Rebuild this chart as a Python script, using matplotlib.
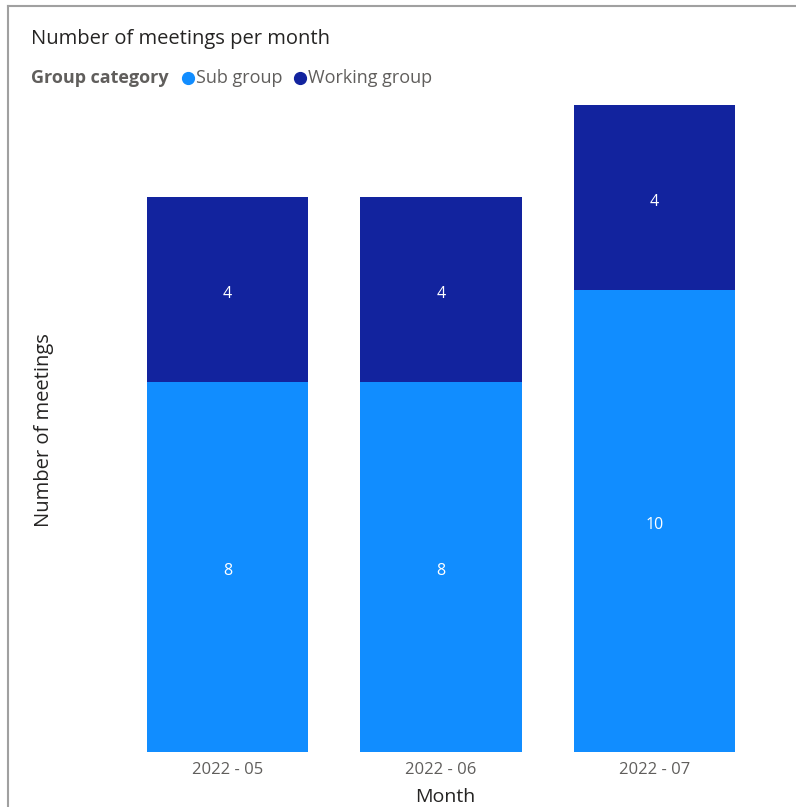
import matplotlib
matplotlib.use("Agg")
import matplotlib.pyplot as plt
from matplotlib.lines import Line2D

months = ["2022 - 05", "2022 - 06", "2022 - 07"]
sub_group = [8, 8, 10]
working_group = [4, 4, 4]

C_SUB = "#118DFF"
C_WORK = "#12239E"

plt.rcParams['font.family'] = ['Open Sans', 'DejaVu Sans']

W, H = 796, 807
fig = plt.figure(figsize=(W / 100, H / 100), dpi=100)

ax_left, ax_right = 121, 761
ax_top, ax_bot = 105, 752
ax = fig.add_axes([ax_left / W, 1 - ax_bot / H, (ax_right - ax_left) / W, (ax_bot - ax_top) / H])

x = list(range(len(months)))
bw = 0.755
ax.bar(x, sub_group, width=bw, color=C_SUB, label="Sub group")
ax.bar(x, working_group, width=bw, bottom=sub_group, color=C_WORK, label="Working group")

for i in x:
    ax.annotate(str(sub_group[i]), (i, sub_group[i] / 2), xytext=(0, -3), textcoords="offset points",
                ha="center", va="center", color="white", fontsize=11.5)
    ax.annotate(str(working_group[i]), (i, sub_group[i] + working_group[i] / 2), xytext=(0, -3),
                textcoords="offset points", ha="center", va="center", color="white", fontsize=11.5)

ax.set_xlim(-0.5, 2.5)
ax.set_ylim(0, 14)
ax.set_xticks(x)
ax.set_xticklabels(months, color="#605E5C", fontsize=12)
ax.tick_params(axis="x", length=0, pad=7)
ax.set_yticks([])
for s in ax.spines.values():
    s.set_visible(False)

fig.text(44 / W, 1 - 430 / H, "Number of meetings", rotation=90, ha="center", va="center",
         fontsize=14.5, color="#252423")
fig.text(445 / W, 1 - 797 / H, "Month", ha="center", va="center", fontsize=14, color="#252423")

fig.text(31 / W, 1 - 39 / H, "Number of meetings per month", ha="left", va="center",
         fontsize=14.5, color="#252423")

ly = 1 - 78 / H
fig.text(31 / W, ly, "Group category", ha="left", va="center", fontsize=13,
         fontweight="bold", color="#605E5C")
fig.add_artist(Line2D([188 / W], [ly], marker="o", markersize=8.5, color=C_SUB, linestyle="none",
                      transform=fig.transFigure))
fig.text(196 / W, ly, "Sub group", ha="left", va="center", fontsize=13, color="#605E5C")
fig.add_artist(Line2D([300 / W], [ly], marker="o", markersize=8.5, color=C_WORK, linestyle="none",
                      transform=fig.transFigure))
fig.text(308 / W, ly, "Working group", ha="left", va="center", fontsize=13, color="#605E5C")

fig.add_artist(Line2D([8 / W, 8 / W], [0, 1 - 6 / H], color="#A0A0A0", lw=1.5, transform=fig.transFigure))
fig.add_artist(Line2D([8 / W, 1], [1 - 6 / H, 1 - 6 / H], color="#A0A0A0", lw=1.5, transform=fig.transFigure))

fig.savefig("out.png", dpi=100, facecolor="white")
